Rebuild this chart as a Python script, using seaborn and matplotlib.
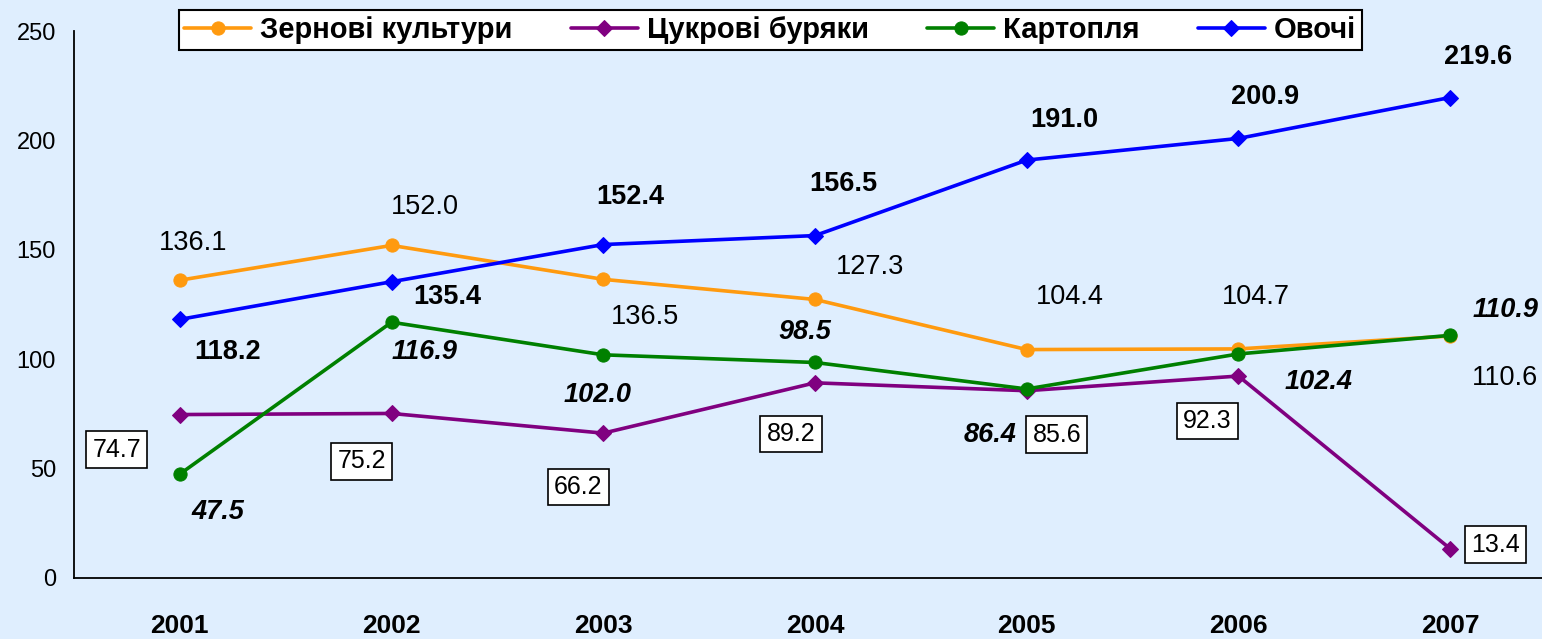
import numpy as np
import pandas as pd
import matplotlib
matplotlib.use('Agg')
import matplotlib.pyplot as plt
import seaborn as sns

# --- data ---
years = ['2001', '2002', '2003', '2004', '2005', '2006', '2007']
grain = [136.1, 152.0, 136.5, 127.3, 104.4, 104.7, 110.6]
beet = [74.7, 75.2, 66.2, 89.2, 85.6, 92.3, 13.4]
potato = [47.5, 116.9, 102.0, 98.5, 86.4, 102.4, 110.9]
veg = [118.2, 135.4, 152.4, 156.5, 191.0, 200.9, 219.6]
names = ['Зернові культури', 'Цукрові буряки', 'Картопля', 'Овочі']

# --- style ---
BG = '#DFEEFE'
colors = ['#FF9A0F', '#800080', '#008000', '#0000FF']
markers = ['o', 'D', 'o', 'D']
msizes = [9.5, 8, 9.5, 8]

# label offsets (pixels, x right / y up) from the point
grain_off = [(13, 37), (33, 38), (42, -38), (55, 32), (43, 53), (17, 52), (55, -42)]
beet_off = [(-63, -35), (-30, -48), (-25, -54), (-24, -51), (30, -44), (-31, -45), (45, 4)]
potato_off = [(38, -38), (33, -30), (-6, -40), (-10, 30), (-37, -46), (80, -28), (55, 25)]
veg_off = [(48, -33), (56, -15), (27, 48), (28, 52), (38, 40), (27, 41), (28, 41)]

sns.set_style('white')
plt.rcParams['font.family'] = ['Liberation Sans', 'DejaVu Sans']
plt.rcParams['text.color'] = 'black'
plt.rcParams['xtick.color'] = 'black'
plt.rcParams['ytick.color'] = 'black'
plt.rcParams['axes.labelcolor'] = 'black'

fig = plt.figure(figsize=(15.42, 6.39), dpi=100, facecolor=BG)
ax = fig.add_axes([74 / 1542, 61 / 639, 1482 / 1542, 547 / 639])
ax.set_facecolor(BG)

x = np.arange(len(years))
all_series = [grain, beet, potato, veg]
for vals, name, col, mk, ms in zip(all_series, names, colors, markers, msizes):
    sns.lineplot(x=x, y=vals, ax=ax, color=col, marker=mk, markersize=ms,
                 markeredgecolor=col, linewidth=2.6, label=name)

# data labels
for i in range(len(years)):
    ax.annotate(f'{grain[i]:.1f}', (x[i], grain[i]), xytext=grain_off[i],
                textcoords='offset pixels', ha='center', va='center', fontsize=19.5)
    ax.annotate(f'{veg[i]:.1f}', (x[i], veg[i]), xytext=veg_off[i],
                textcoords='offset pixels', ha='center', va='center', fontsize=19.5,
                fontweight='bold')
    ax.annotate(f'{potato[i]:.1f}', (x[i], potato[i]), xytext=potato_off[i],
                textcoords='offset pixels', ha='center', va='center', fontsize=19.5,
                fontweight='bold', fontstyle='italic')
    ax.annotate(f'{beet[i]:.1f}', (x[i], beet[i]), xytext=beet_off[i],
                textcoords='offset pixels', ha='center', va='center', fontsize=18,
                bbox=dict(boxstyle='square,pad=0.25', fc='white', ec='black', lw=1.2))

# axes
ax.set_xlim(-0.5, len(years) - 0.5)
ax.set_ylim(0, 250)
ax.set_yticks([0, 50, 100, 150, 200, 250])
ax.set_xticks(np.arange(len(years) + 1) - 0.5)
ax.set_xticklabels([])
ax.set_xticks(x, minor=True)
ax.set_xticklabels(years, minor=True, fontsize=19, fontweight='bold')
ax.tick_params(axis='x', which='major', direction='out', length=8, width=1.3, color='black')
ax.tick_params(axis='x', which='minor', length=0, pad=26)
ax.tick_params(axis='y', direction='out', length=5, width=1.3, color='black',
               labelsize=17, pad=8)
for s in ['top', 'right']:
    ax.spines[s].set_visible(False)
for s in ['left', 'bottom']:
    ax.spines[s].set_color('black')
    ax.spines[s].set_linewidth(1.3)
ax.set_xlabel('')
ax.set_ylabel('')
ax.grid(False)

leg = ax.legend(loc='center', bbox_to_anchor=(0.4994, 0.953), bbox_transform=fig.transFigure,
                ncol=4, frameon=True, fancybox=False, facecolor='white', framealpha=1,
                edgecolor='black', prop={'weight': 'bold', 'size': 21},
                handlelength=2.3, handletextpad=0.3, columnspacing=2.0, borderpad=0.2)
leg.get_frame().set_linewidth(1.5)

plt.savefig('out.png', dpi=100, facecolor=BG)
plt.close()
